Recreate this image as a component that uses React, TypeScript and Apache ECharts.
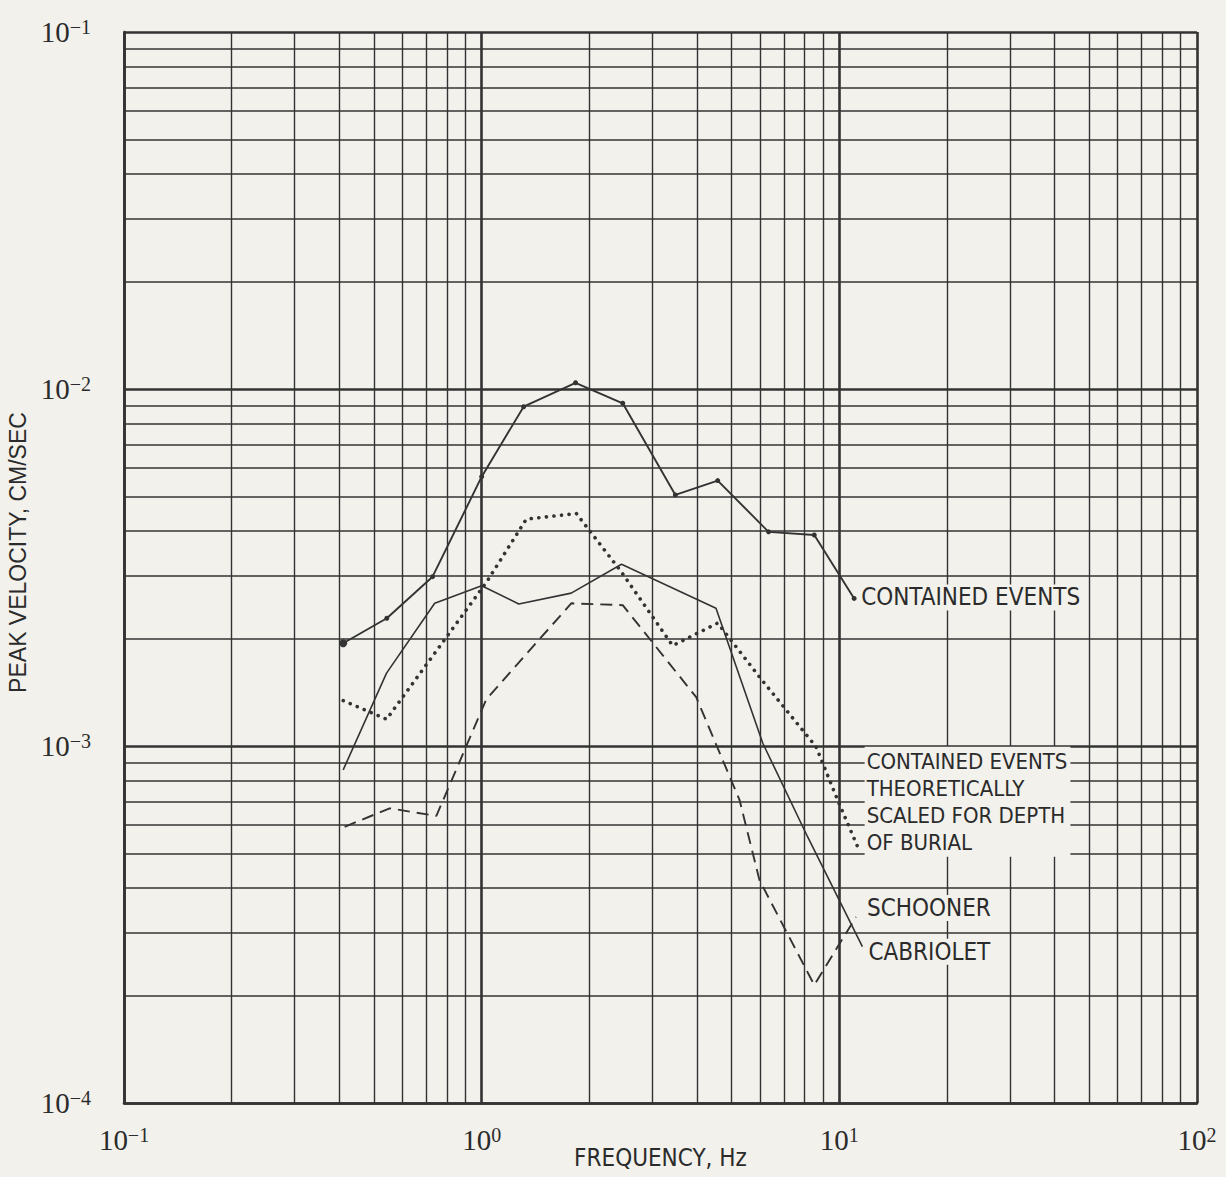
import React, { useEffect, useRef } from "react";
import * as echarts from "echarts";

// ---- Data ----
const containedFreq = [0.41, 0.543, 0.729, 1.0, 1.31, 1.83, 2.48, 3.48, 4.57, 6.34, 8.51, 11.0];
const containedVel = [1.94e-3, 2.28e-3, 2.98e-3, 5.68e-3, 8.92e-3, 1.041e-2, 9.12e-3, 5.05e-3, 5.54e-3, 3.98e-3, 3.9e-3, 2.59e-3];

const scaledFreq = [0.41, 0.542, 1.03, 1.333, 1.839, 2.46, 3.42, 4.57, 5.98, 8.61, 9.89, 11.25];
const scaledVel = [1.34e-3, 1.188e-3, 2.87e-3, 4.32e-3, 4.48e-3, 3.07e-3, 1.91e-3, 2.21e-3, 1.56e-3, 9.95e-4, 7.06e-4, 5.22e-4];

const cabrioletFreq = [0.41, 0.542, 0.739, 1.0, 1.27, 1.78, 2.46, 4.52, 6.11, 8.15, 11.6];
const cabrioletVel = [8.57e-4, 1.6e-3, 2.51e-3, 2.81e-3, 2.5e-3, 2.68e-3, 3.23e-3, 2.43e-3, 1.018e-3, 5.57e-4, 2.74e-4];

const schoonerFreq = [0.414, 0.553, 0.747, 1.03, 1.78, 2.48, 3.98, 5.26, 5.98, 8.51, 11.13];
const schoonerVel = [5.94e-4, 6.69e-4, 6.37e-4, 1.35e-3, 2.51e-3, 2.48e-3, 1.37e-3, 7.06e-4, 4.21e-4, 2.14e-4, 3.32e-4];

// axis decades and log-paper subdivisions
const xDecades = [0.1, 1, 10];
const xEnd = 100;
const yDecades = [1e-4, 1e-3, 1e-2];
const yEnd = 0.1;
const gridSteps = [1, 2, 3, 4, 5, 6, 7, 8, 9];

const xTitle = "FREQUENCY, Hz";
const yTitle = "PEAK VELOCITY, CM/SEC";
const labelContained = "CONTAINED EVENTS";
const labelScaled = "CONTAINED EVENTS\nTHEORETICALLY\nSCALED FOR DEPTH\nOF BURIAL";
const labelSchooner = "SCHOONER";
const labelCabriolet = "CABRIOLET";

const PAPER = "#f2f1ec";
const INK = "#2b2b2b";
const NARROW = "'Liberation Sans Narrow', 'DejaVu Sans Condensed', 'Roboto Condensed', Roboto, sans-serif";
const SERIF = "'Liberation Serif', 'DejaVu Serif', serif";

const pairs = (xs: number[], ys: number[]) => xs.map((x, i) => [x, ys[i]]);

function powLabel(v: number) {
  const e = Math.round(Math.log10(v));
  const s = e < 0 ? "\u2212" + -e : String(e);
  return "{b|10}{s|" + s + "}";
}

const tickRich = {
  b: { fontSize: 29, fontFamily: SERIF, color: INK, lineHeight: 30 },
  s: { fontSize: 20, fontFamily: SERIF, color: INK, lineHeight: 20, verticalAlign: "top" },
};

export default function App() {
  const ref = useRef<HTMLDivElement>(null);

  useEffect(() => {
    if (!ref.current) return;
    const chart = echarts.init(ref.current, undefined, { renderer: "svg" });

    const gridLines: any[] = [];
    xDecades.forEach((d) =>
      gridSteps.forEach((k) =>
        gridLines.push({ xAxis: k * d, lineStyle: { width: k === 1 ? 2.6 : 1.4 } })
      )
    );
    gridLines.push({ xAxis: xEnd, lineStyle: { width: 2.6 } });
    yDecades.forEach((d) =>
      gridSteps.forEach((k) =>
        gridLines.push({ yAxis: k * d, lineStyle: { width: k === 1 ? 2.6 : 1.6 } })
      )
    );
    gridLines.push({ yAxis: yEnd, lineStyle: { width: 2.6 } });

    const endLabelBase = {
      show: true,
      color: INK,
      fontFamily: NARROW,
      fontSize: 24,
      backgroundColor: PAPER,
      padding: [1, 3, 1, 2],
      distance: 3,
    };

    chart.setOption({
      animation: false,
      backgroundColor: PAPER,
      grid: {
        left: 124,
        right: 29,
        top: 32,
        bottom: 74,
        containLabel: false,
        outerBoundsMode: "none",
      },
      xAxis: {
        type: "log",
        logBase: 10,
        min: xDecades[0],
        max: xEnd,
        name: xTitle,
        nameLocation: "middle",
        nameGap: 43,
        nameMoveOverlap: false,
        nameTextStyle: { fontFamily: NARROW, fontSize: 24, color: INK },
        axisLine: { show: true, lineStyle: { color: INK, width: 2.6 } },
        axisTick: { show: false },
        splitLine: { show: false },
        axisLabel: { margin: 22, formatter: powLabel, rich: tickRich },
      },
      yAxis: {
        type: "log",
        logBase: 10,
        min: yDecades[0],
        max: yEnd,
        name: yTitle,
        nameLocation: "middle",
        nameGap: 95,
        nameMoveOverlap: false,
        nameTextStyle: {
          fontFamily: "'Liberation Sans', Arial, sans-serif",
          fontSize: 23,
          color: INK,
          padding: [0, 0, 0, 30],
        },
        axisLine: { show: true, lineStyle: { color: INK, width: 2.6 } },
        axisTick: { show: false },
        splitLine: { show: false },
        axisLabel: { margin: 33, formatter: powLabel, rich: tickRich },
      },
      series: [
        {
          name: labelContained,
          type: "line",
          z: 3,
          data: pairs(containedFreq, containedVel),
          symbol: "circle",
          symbolSize: (_v: any, p: any) => (p.dataIndex === 0 ? 8 : 5),
          itemStyle: { color: "#333" },
          lineStyle: { color: "#333", width: 1.9 },
          endLabel: { ...endLabelBase, formatter: labelContained, offset: [2, -1] },
          markLine: {
            silent: true,
            z: 1,
            precision: 10,
            symbol: ["none", "none"],
            label: { show: false },
            lineStyle: { color: "#333", type: "solid", opacity: 1 },
            emphasis: { disabled: true },
            data: gridLines,
          },
        },
        {
          name: "CONTAINED EVENTS THEORETICALLY SCALED FOR DEPTH OF BURIAL",
          type: "line",
          z: 3,
          data: pairs(scaledFreq, scaledVel),
          showSymbol: false,
          lineStyle: { color: "#333", width: 3.6, type: [0.1, 7.5], cap: "round" },
          endLabel: {
            ...endLabelBase,
            fontSize: 22,
            lineHeight: 27,
            formatter: labelScaled,
            verticalAlign: "bottom",
            offset: [4, 10],
          },
        },
        {
          name: labelCabriolet,
          type: "line",
          z: 3,
          data: pairs(cabrioletFreq, cabrioletVel),
          showSymbol: false,
          lineStyle: { color: "#333", width: 1.6 },
          endLabel: { ...endLabelBase, formatter: labelCabriolet, offset: [1, 5] },
        },
        {
          name: labelSchooner,
          type: "line",
          z: 3,
          data: pairs(schoonerFreq, schoonerVel),
          showSymbol: false,
          lineStyle: { color: "#333", width: 1.9, type: [12, 7] },
          endLabel: { ...endLabelBase, formatter: labelSchooner, offset: [6, -9] },
        },
      ],
    });

    return () => chart.dispose();
  }, []);

  return (
    <div
      ref={ref}
      style={{ position: "absolute", left: 0, top: 0, width: 1226, height: 1177, background: PAPER }}
    />
  );
}
